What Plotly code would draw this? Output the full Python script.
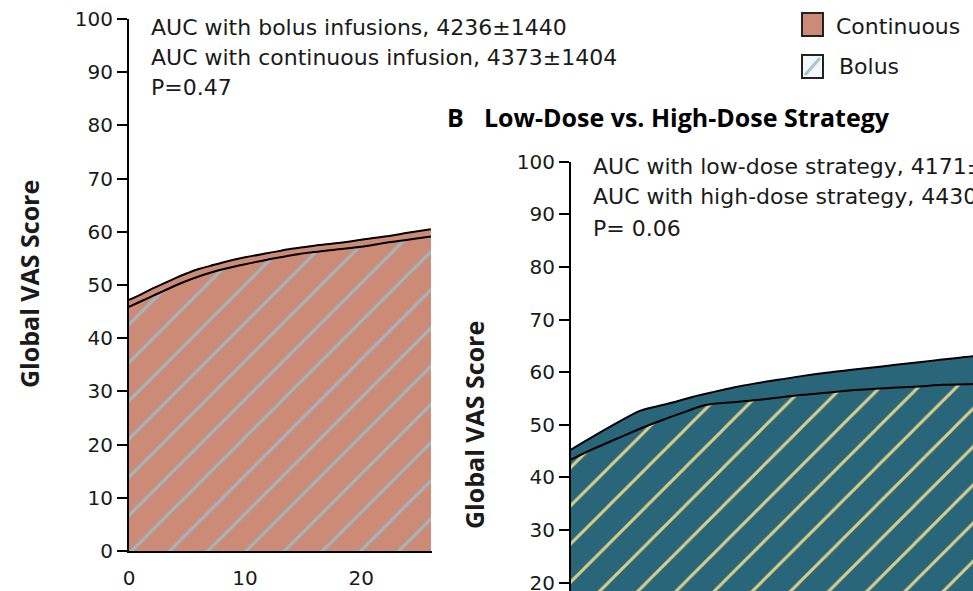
import plotly.graph_objects as go

# ---------------- data ----------------
# Panel A: Bolus vs Continuous infusion (hours, Global VAS score)
a_hours = [0, 1, 2, 3, 4, 5, 6, 7, 8, 10, 12, 14, 16, 18, 20, 22, 24, 26]
a_continuous = [47.2, 48.2, 49.3, 50.3, 51.3, 52.2, 53.0, 53.6, 54.2, 55.2, 56.0, 56.8, 57.4, 57.9, 58.5, 59.1, 59.8, 60.5]
a_bolus = [45.9, 46.9, 47.9, 48.9, 49.9, 50.8, 51.6, 52.3, 52.9, 53.9, 54.8, 55.6, 56.2, 56.7, 57.2, 57.9, 58.5, 59.1]

# Panel B: Low-dose vs High-dose strategy
b_hours = [0, 2, 4, 6, 8, 10, 11, 12, 14, 16, 18, 20, 22, 24, 26, 28, 30, 32, 34, 35]
b_high = [45.3, 47.9, 50.4, 52.7, 53.8, 55.0, 55.6, 56.1, 57.1, 57.9, 58.6, 59.3, 59.9, 60.4, 60.9, 61.4, 61.9, 62.4, 62.9, 63.1]
b_low = [43.4, 45.5, 47.4, 49.3, 51.0, 52.6, 53.4, 53.9, 54.3, 54.7, 55.2, 55.7, 56.1, 56.5, 56.8, 57.1, 57.3, 57.6, 57.7, 57.8]

y_ticks = [0, 10, 20, 30, 40, 50, 60, 70, 80, 90, 100]
a_x_ticks = [0, 10, 20]

a_text = ["AUC with bolus infusions, 4236±1440",
          "AUC with continuous infusion, 4373±1404",
          "P=0.47"]
b_text = ["AUC with low-dose strategy, 4171±1436",
          "AUC with high-dose strategy, 4430±1401",
          "P= 0.06"]
b_title = "Low-Dose vs. High-Dose Strategy"
y_title = "Global VAS Score"
legend_labels = ["Continuous", "Bolus"]

# ---------------- style ----------------
W, H = 973, 591
FONT = "DejaVu Sans"
BFONT = "Open Sans"
SALMON = "#CB8B76"
A_HATCH = "#A3B6BF"
TEAL = "#2A6679"
B_HATCH = "#D9CF8C"
TXT = "#1a1a1a"


def px(x):
    return x / W


def py(y):
    return 1 - y / H


fig = go.Figure()

# Panel A
fig.add_trace(go.Scatter(x=a_hours, y=a_continuous, mode="lines", fill="tozeroy",
                         fillcolor=SALMON, line=dict(color="black", width=2, shape="spline"),
                         xaxis="x", yaxis="y", name="Continuous", showlegend=False))
fig.add_trace(go.Scatter(x=a_hours, y=a_bolus, mode="lines", fill="tozeroy",
                         fillcolor=SALMON,
                         fillpattern=dict(shape="/", fgcolor=A_HATCH, bgcolor=SALMON,
                                          size=27, solidity=0.11, fillmode="replace"),
                         line=dict(color="black", width=2, shape="spline"),
                         xaxis="x", yaxis="y", name="Bolus", showlegend=False))
# small x tick marks detached from axis (as in reference)
fig.add_trace(go.Scatter(x=a_x_ticks, y=[-2.4] * len(a_x_ticks), mode="markers",
                         marker=dict(symbol="line-ns", size=5, color=TXT,
                                     line=dict(width=2, color=TXT)),
                         cliponaxis=False, xaxis="x", yaxis="y", showlegend=False,
                         hoverinfo="skip"))

# Panel B
fig.add_trace(go.Scatter(x=b_hours, y=b_high, mode="lines", fill="tozeroy",
                         fillcolor=TEAL, line=dict(color="black", width=2, shape="spline"),
                         xaxis="x2", yaxis="y2", name="High dose", showlegend=False))
fig.add_trace(go.Scatter(x=b_hours, y=b_low, mode="lines", fill="tozeroy",
                         fillcolor=TEAL,
                         fillpattern=dict(shape="/", fgcolor=B_HATCH, bgcolor=TEAL,
                                          size=27, solidity=0.11, fillmode="replace"),
                         line=dict(color="black", width=2, shape="spline"),
                         xaxis="x2", yaxis="y2", name="Low dose", showlegend=False))

tickfont = dict(family=FONT, size=20, color=TXT)

fig.update_layout(
    template="none",
    width=W, height=H,
    margin=dict(l=0, r=0, t=0, b=0, autoexpand=False),
    paper_bgcolor="white", plot_bgcolor="white",
    showlegend=False,
    xaxis=dict(domain=[px(129), px(432)], range=[0, 26.1], anchor="y", automargin=False,
               showline=True, linecolor="black", linewidth=2, mirror=False,
               tickvals=a_x_ticks, ticks="", ticklabelstandoff=8,
               ticklabeloverflow="allow",
               tickfont=tickfont, showgrid=False, zeroline=False),
    yaxis=dict(domain=[py(551), py(19)], range=[0, 100], anchor="x", automargin=False,
               showline=True, linecolor="black", linewidth=2,
               tickvals=y_ticks, ticks="outside", ticklen=10, tickwidth=1.5,
               ticklabeloverflow="allow",
               tickcolor="black", tickfont=tickfont, showgrid=False, zeroline=False),
    xaxis2=dict(domain=[px(571), 1.0], range=[0, 34.66], anchor="y2", automargin=False,
                visible=False, showgrid=False, zeroline=False),
    yaxis2=dict(domain=[0, py(161.7)], range=[18.42, 100], anchor="x2", automargin=False,
                showline=True, linecolor="black", linewidth=2,
                tickvals=y_ticks, ticks="outside", ticklen=10, tickwidth=1.5,
                ticklabeloverflow="allow",
                tickcolor="black", tickfont=tickfont, showgrid=False, zeroline=False),
)

ann = []
for i, t in enumerate(a_text):
    ann.append(dict(text=t, x=px(149), y=py(27 + 30.5 * i), xref="paper", yref="paper",
                    xanchor="left", yanchor="middle", showarrow=False,
                    font=dict(family=FONT, size=22, color=TXT)))
for i, t in enumerate(b_text):
    ann.append(dict(text=t, x=px(591), y=py(166 + 31 * i), xref="paper", yref="paper",
                    xanchor="left", yanchor="middle", showarrow=False,
                    font=dict(family=FONT, size=22, color=TXT)))
ann.append(dict(text="<b>B</b>", x=px(445), y=py(117), xref="paper", yref="paper",
                xanchor="left", yanchor="middle", showarrow=False,
                font=dict(family=BFONT, size=25, color="black")))
ann.append(dict(text="<b>" + b_title + "</b>", x=px(482), y=py(117), xref="paper", yref="paper",
                xanchor="left", yanchor="middle", showarrow=False,
                font=dict(family=BFONT, size=25, color="black")))
for cx, cy in [(29, 284), (474, 425)]:
    ann.append(dict(text="<b>" + y_title + "</b>", x=px(cx), y=py(cy), xref="paper", yref="paper",
                    xanchor="center", yanchor="middle", textangle=-90, showarrow=False,
                    font=dict(family=BFONT, size=25, color=TXT)))
# legend labels
for (lx, ly), t in zip([(834, 26), (837, 67)], legend_labels):
    ann.append(dict(text=t, x=px(lx), y=py(ly), xref="paper", yref="paper",
                    xanchor="left", yanchor="middle", showarrow=False,
                    font=dict(family=FONT, size=22, color=TXT)))
fig.update_layout(annotations=ann)

shapes = [
    dict(type="rect", xref="paper", yref="paper", x0=px(802), x1=px(823), y0=py(36), y1=py(13),
         fillcolor=SALMON, line=dict(color="#222", width=2)),
    dict(type="rect", xref="paper", yref="paper", x0=px(802), x1=px(823), y0=py(78), y1=py(55),
         fillcolor="#F4F8FA", line=dict(color="#222", width=2)),
    dict(type="line", xref="paper", yref="paper", x0=px(805), x1=px(820), y0=py(75), y1=py(58),
         line=dict(color="#A9C3D1", width=3)),
]
fig.update_layout(shapes=shapes)

fig.write_html("out.html")
